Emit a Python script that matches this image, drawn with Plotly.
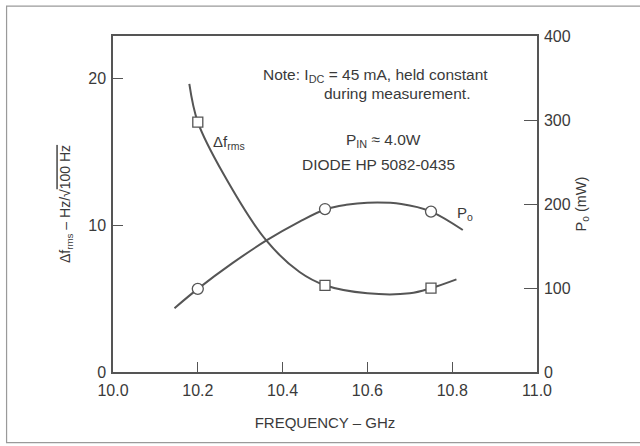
import plotly.graph_objects as go

# ---- data ----
df_curve_f = [10.18, 10.2, 10.26, 10.36, 10.44, 10.5, 10.6, 10.7, 10.75, 10.81]
df_curve_v = [19.6, 17.0, 13.5, 9.0, 6.8, 5.9, 5.35, 5.35, 5.7, 6.3]
df_pts_f = [10.2, 10.5, 10.75]
df_pts_v = [17.0, 5.9, 5.7]

po_curve_f = [10.145, 10.2, 10.28, 10.36, 10.44, 10.5, 10.55, 10.6, 10.68, 10.75, 10.825]
po_curve_v = [76, 99, 129, 156, 179, 193.5, 199, 201.5, 200, 191, 169]
po_pts_f = [10.2, 10.5, 10.75]
po_pts_v = [99, 194, 191]

x_ticks = [10.0, 10.2, 10.4, 10.6, 10.8, 11.0]
x_tick_text = ["10.0", "10.2", "10.4", "10.6", "10.8", "11.0"]
y1_ticks = [0, 10, 20]
y2_ticks = [0, 100, 200, 300, 400]

INK = "#555555"
TXT = "#3a3a3a"
FONT = "Liberation Sans"

fig = go.Figure()
fig.add_trace(go.Scatter(x=df_curve_f, y=df_curve_v, mode="lines", line=dict(color=INK, width=2, shape="spline", smoothing=1.0),
                         hoverinfo="skip", showlegend=False))
fig.add_trace(go.Scatter(x=df_pts_f, y=df_pts_v, mode="markers",
                         marker=dict(symbol="square", size=10, color="white", line=dict(color=INK, width=1.3)),
                         showlegend=False))
fig.add_trace(go.Scatter(x=po_curve_f, y=po_curve_v, mode="lines", yaxis="y2",
                         line=dict(color=INK, width=2, shape="spline", smoothing=1.0), showlegend=False))
fig.add_trace(go.Scatter(x=po_pts_f, y=po_pts_v, mode="markers", yaxis="y2",
                         marker=dict(symbol="circle", size=11, color="white", line=dict(color=INK, width=1.3)),
                         showlegend=False))

axis_common = dict(showgrid=False, zeroline=False, showline=True, linecolor=INK, linewidth=1.5,
                   ticks="inside", tickcolor=INK, tickwidth=1.2,
                   tickfont=dict(family=FONT, size=16, color=TXT))

fig.update_layout(
    width=640, height=446,
    margin=dict(l=113, r=103, t=36, b=74),
    paper_bgcolor="white", plot_bgcolor="white",
    font=dict(family=FONT, color=TXT),
    xaxis=dict(axis_common, range=[10.0, 11.0], tickvals=x_ticks, ticktext=x_tick_text, ticklen=10, mirror=True,
               ticklabelstandoff=3,
               title=dict(text="FREQUENCY – GHz", font=dict(family=FONT, size=15, color=TXT), standoff=20)),
    yaxis=dict(axis_common, range=[0, 22.86], tickvals=y1_ticks, ticklen=10, ticklabelstandoff=2,
               title=dict(text="Δf<sub>rms</sub> – Hz/√<span style='text-decoration:overline'>100 Hz</span>",
                          font=dict(family=FONT, size=14, color=TXT), standoff=14)),
    yaxis2=dict(axis_common, range=[0, 400], tickvals=y2_ticks, ticklen=13, overlaying="y", side="right",
                ticklabelstandoff=2,
                title=dict(text="P<sub>o</sub> (mW)", font=dict(family=FONT, size=14.5, color=TXT), standoff=6)),
)

ann = dict(showarrow=False, font=dict(family=FONT, size=15.5, color=TXT), xref="x", yref="y")
fig.add_annotation(ann, x=10.618, y=20.2, text="Note: I<sub>DC</sub> = 45 mA, held constant")
fig.add_annotation(ann, x=10.67, y=18.95, text="during measurement.")
fig.add_annotation(ann, x=10.639, y=15.75, text="P<sub>IN</sub> ≈ 4.0W")
fig.add_annotation(ann, x=10.625, y=14.1, text="DIODE HP 5082-0435")
fig.add_annotation(dict(ann, font=dict(family=FONT, size=15, color=TXT)), x=10.232, y=15.6,
                   text="Δf<sub>rms</sub>", xanchor="left")
fig.add_annotation(dict(ann, font=dict(family=FONT, size=15, color=TXT)), x=10.807, y=10.8,
                   text="P<sub>o</sub>", xanchor="left")

# outer frame of the figure
fig.add_shape(type="rect", xref="paper", yref="paper", x0=-0.251, x1=1.4, y0=-0.21, y1=1.089,
              line=dict(color="#9a9a9a", width=1.2), fillcolor="rgba(0,0,0,0)", layer="below")

fig.write_html("out.html")
